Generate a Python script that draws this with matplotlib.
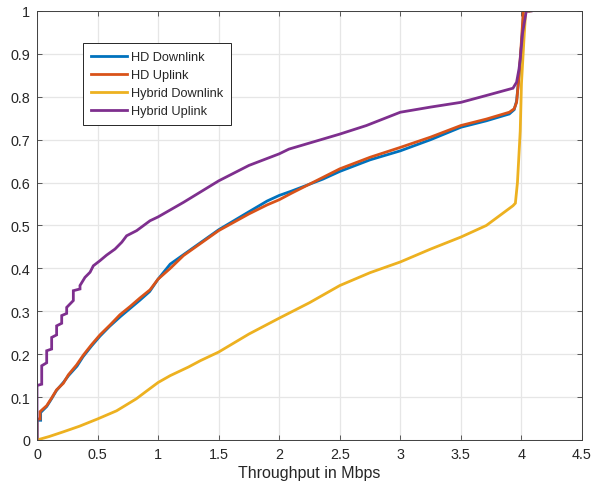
import numpy as np
import matplotlib
matplotlib.use('Agg')
import matplotlib.pyplot as plt

plt.rcParams['font.family'] = ['Liberation Sans', 'DejaVu Sans']

# ---------------------------------------------------------
# Empirical CDF of throughput (Mbps) for each link type
# ---------------------------------------------------------
hd_down_x = [0.0, 0.0, 0.03, 0.03, 0.08, 0.12, 0.16, 0.22, 0.26, 0.33, 0.38, 0.45,
             0.52, 0.60, 0.69, 0.77, 0.85, 0.93, 1.0, 1.1, 1.21, 1.35, 1.5, 1.75,
             1.9, 2.0, 2.1, 2.36, 2.5, 2.75, 3.0, 3.25, 3.5, 3.71, 3.9, 3.94, 3.96,
             3.97, 3.99, 4.01, 4.02, 4.06]
hd_down_y = [0.0, 0.046, 0.046, 0.064, 0.078, 0.096, 0.115, 0.135, 0.150, 0.172, 0.194,
             0.219, 0.242, 0.265, 0.288, 0.307, 0.326, 0.346, 0.375, 0.410, 0.432, 0.460,
             0.490, 0.532, 0.557, 0.570, 0.580, 0.608, 0.626, 0.653, 0.674, 0.700, 0.729,
             0.744, 0.760, 0.770, 0.790, 0.820, 0.880, 0.960, 1.0, 1.0]

hd_up_x = [0.0, 0.0, 0.025, 0.025, 0.08, 0.121, 0.162, 0.217, 0.259, 0.327, 0.383, 0.45,
           0.52, 0.603, 0.685, 0.768, 0.85, 0.933, 1.0, 1.1, 1.21, 1.35, 1.5, 1.75,
           1.9, 2.0, 2.1, 2.36, 2.5, 2.75, 3.0, 3.25, 3.5, 3.71, 3.9, 3.94, 3.96,
           3.97, 3.98, 4.0, 4.016, 4.06]
hd_up_y = [0.0, 0.049, 0.049, 0.066, 0.080, 0.098, 0.117, 0.132, 0.152, 0.175, 0.198,
           0.222, 0.245, 0.268, 0.292, 0.311, 0.331, 0.350, 0.375, 0.400, 0.430, 0.458,
           0.488, 0.527, 0.548, 0.560, 0.575, 0.612, 0.632, 0.659, 0.682, 0.706, 0.733,
           0.748, 0.764, 0.772, 0.787, 0.818, 0.850, 0.930, 1.0, 1.0]

hyb_down_x = [0.0, 0.1, 0.217, 0.35, 0.5, 0.657, 0.82, 0.9, 1.0, 1.1, 1.25, 1.35, 1.5,
              1.75, 2.0, 2.25, 2.5, 2.75, 3.0, 3.25, 3.5, 3.71, 3.82, 3.93, 3.95,
              3.967, 3.99, 4.0, 4.02, 4.035, 4.07]
hyb_down_y = [0.0, 0.008, 0.019, 0.032, 0.049, 0.068, 0.096, 0.113, 0.134, 0.150, 0.170,
              0.185, 0.205, 0.247, 0.284, 0.320, 0.360, 0.390, 0.415, 0.445, 0.473,
              0.500, 0.523, 0.546, 0.552, 0.600, 0.720, 0.830, 0.930, 1.0, 1.0]

hyb_up_x = [0.0, 0.0, 0.039, 0.039, 0.08, 0.08, 0.121, 0.121, 0.162, 0.162, 0.204,
            0.204, 0.245, 0.245, 0.30, 0.30, 0.355, 0.355, 0.396, 0.438, 0.465, 0.52,
            0.575, 0.644, 0.70, 0.74, 0.823, 0.933, 1.0, 1.21, 1.5, 1.75, 2.0, 2.08,
            2.5, 2.72, 3.0, 3.25, 3.5, 3.71, 3.93, 3.96, 3.98, 3.99, 4.01, 4.04, 4.08]
hyb_up_y = [0.0, 0.127, 0.130, 0.173, 0.180, 0.208, 0.212, 0.239, 0.245, 0.266, 0.272,
            0.290, 0.295, 0.309, 0.325, 0.348, 0.352, 0.360, 0.379, 0.391, 0.406, 0.418,
            0.431, 0.445, 0.461, 0.476, 0.488, 0.511, 0.520, 0.554, 0.604, 0.640, 0.667,
            0.678, 0.713, 0.733, 0.764, 0.776, 0.787, 0.803, 0.820, 0.834, 0.865, 0.888,
            0.950, 1.0, 1.0]

series = [
    ('HD Downlink', hd_down_x, hd_down_y, '#0072BD'),
    ('HD Uplink', hd_up_x, hd_up_y, '#D95319'),
    ('Hybrid Downlink', hyb_down_x, hyb_down_y, '#EDB120'),
    ('Hybrid Uplink', hyb_up_x, hyb_up_y, '#7E2F8E'),
]

x_ticks = [0, 0.5, 1, 1.5, 2, 2.5, 3, 3.5, 4, 4.5]
y_ticks = [0, 0.1, 0.2, 0.3, 0.4, 0.5, 0.6, 0.7, 0.8, 0.9, 1]

# ---------------------------------------------------------
# Plot
# ---------------------------------------------------------
fig = plt.figure(figsize=(5.92, 4.89), dpi=100)
ax = fig.add_axes([0.0625, 0.0982, 0.9206, 0.8773])

for label, xs, ys, color in series:
    ax.plot(xs, ys, color=color, lw=2.0, label=label, solid_joinstyle='miter')

ax.set_xlim(0, 4.5)
ax.set_ylim(0, 1)
ax.set_xticks(x_ticks)
ax.set_xticklabels(['0', '0.5', '1', '1.5', '2', '2.5', '3', '3.5', '4', '4.5'])
ax.set_yticks(y_ticks)
ax.set_yticklabels(['0', '0.1', '0.2', '0.3', '0.4', '0.5', '0.6', '0.7', '0.8', '0.9', '1'])

text_col = '#262626'
ax.grid(True, color='#e6e6e6', lw=0.9)
ax.set_axisbelow(True)
ax.tick_params(direction='in', length=3.5, width=0.6, top=True, right=True,
               colors='#404040', labelcolor=text_col, labelsize=10.4, pad=5)
for sp in ax.spines.values():
    sp.set_color('#404040')
    sp.set_linewidth(0.7)

ax.set_xlabel('Throughput in Mbps', fontsize=11.5, color=text_col, labelpad=3)

leg = ax.legend(loc='upper left', bbox_to_anchor=(0.0844, 0.925), borderaxespad=0,
                fontsize=9.2, fancybox=False, framealpha=1, edgecolor='#262626',
                handlelength=2.8, handletextpad=0.35, labelspacing=0.48,
                borderpad=0.62)
leg.get_frame().set_linewidth(0.7)
for t in leg.get_texts():
    t.set_color(text_col)

fig.savefig('out.png', dpi=100)
